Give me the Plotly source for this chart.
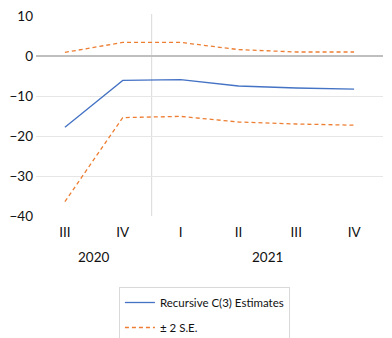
import plotly.graph_objects as go

quarters = ['III', 'IV', 'I', 'II', 'III', 'IV']
years = ['2020', '2021']
estimates = [-17.8, -6.1, -5.9, -7.5, -8.0, -8.3]
upper = [0.9, 3.4, 3.4, 1.6, 1.0, 1.0]
lower = [-36.4, -15.4, -15.1, -16.5, -17.0, -17.3]

x = list(range(len(quarters)))
font = 'Lato, sans-serif'

fig = go.Figure()
fig.add_trace(go.Scatter(x=x, y=estimates, mode='lines', name='Recursive C(3) Estimates',
                         legendgroup='est',
                         line=dict(color='#4472C4', width=1.3)))
fig.add_trace(go.Scatter(x=x, y=upper, mode='lines', name='± 2 S.E.', legendgroup='se',
                         line=dict(color='#ED7D31', width=1.3, dash='4px,3px')))
fig.add_trace(go.Scatter(x=x, y=lower, mode='lines', name='± 2 S.E.', legendgroup='se',
                         showlegend=False,
                         line=dict(color='#ED7D31', width=1.3, dash='4px,3px')))

# separator between years
fig.add_shape(type='line', xref='x', yref='paper', x0=1.5, x1=1.5, y0=0, y1=1.01,
              line=dict(color='#d9d9d9', width=1), layer='below')

for pos, yr in zip([0.5, 3.5], years):
    fig.add_annotation(x=pos, y=-0.155, xref='x', yref='paper', text=yr, showarrow=False,
                       yanchor='top', font=dict(size=13.5, color='#111'))

# page body has an 8px margin, so the figure is 8px smaller than the window
fig.update_layout(
    width=384, height=330,
    margin=dict(l=28, r=9, t=8, b=122, autoexpand=False),
    plot_bgcolor='white', paper_bgcolor='white',
    font=dict(family=font, size=13.5, color='#111'),
    showlegend=True,
    legend=dict(x=0.239, y=-0.355, xanchor='left', yanchor='top',
                bordercolor='#d9d9d9', borderwidth=1,
                font=dict(size=11.5, color='#111'), tracegroupgap=6),
    xaxis=dict(tickvals=x, ticktext=quarters, range=[-0.5, 5.5], showgrid=False,
               zeroline=False, showline=False, ticks='', ticklabelstandoff=6,
               automargin=False),
    yaxis=dict(range=[-40, 10], dtick=10, gridcolor='#e6e6e6', gridwidth=1,
               zeroline=True, zerolinecolor='#bfbfbf', zerolinewidth=2,
               showline=False, ticks='', automargin=False, ticklabelstandoff=2,
               ticklabeloverflow='allow'),
)

fig.write_html("out.html")
